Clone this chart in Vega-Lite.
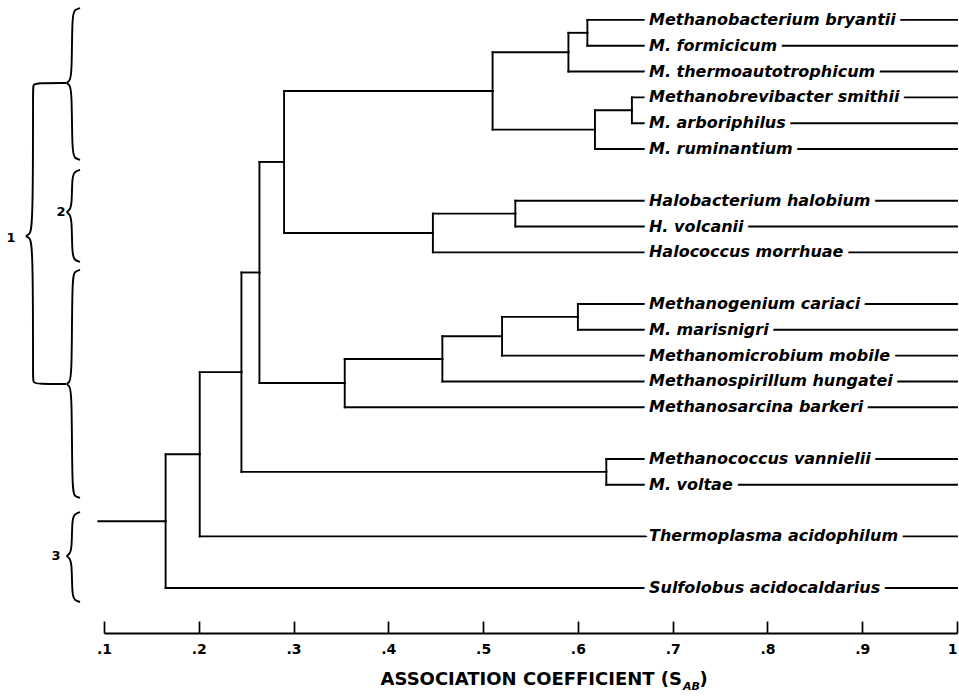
{
  "$schema": "https://vega.github.io/schema/vega-lite/v6.json",
  "width": 853,
  "height": 626,
  "autosize": {"type": "none"},
  "padding": {"left": 104, "top": 7, "right": 2, "bottom": 63},
  "background": "white",
  "config": {"view": {"stroke": null}},
  "datasets": {
    "nodes": [
      {"id": "root", "parent": null, "kind": "root", "coef": 0.094, "row": 19.41},
      {"id": "Q", "parent": "root", "kind": "node", "coef": 0.165, "row": 19.41},
      {"id": "P", "parent": "Q", "kind": "node", "coef": 0.201, "row": 16.82},
      {"id": "O", "parent": "P", "kind": "node", "coef": 0.245, "row": 13.64},
      {"id": "I", "parent": "O", "kind": "node", "coef": 0.264, "row": 9.78},
      {"id": "F", "parent": "I", "kind": "node", "coef": 0.29, "row": 5.5},
      {"id": "E", "parent": "F", "kind": "node", "coef": 0.51, "row": 2.75},
      {"id": "B", "parent": "E", "kind": "node", "coef": 0.59, "row": 1.25},
      {"id": "A", "parent": "B", "kind": "node", "coef": 0.61, "row": 0.5},
      {"id": "D", "parent": "E", "kind": "node", "coef": 0.618, "row": 4.25},
      {"id": "C", "parent": "D", "kind": "node", "coef": 0.657, "row": 3.5},
      {"id": "G", "parent": "F", "kind": "node", "coef": 0.447, "row": 8.25},
      {"id": "H", "parent": "G", "kind": "node", "coef": 0.534, "row": 7.5},
      {"id": "J", "parent": "I", "kind": "node", "coef": 0.354, "row": 14.06},
      {"id": "K", "parent": "J", "kind": "node", "coef": 0.457, "row": 13.13},
      {"id": "L", "parent": "K", "kind": "node", "coef": 0.52, "row": 12.25},
      {"id": "M", "parent": "L", "kind": "node", "coef": 0.6, "row": 11.5},
      {"id": "N", "parent": "O", "kind": "node", "coef": 0.63, "row": 17.5},
      {"id": "s1", "parent": "A", "kind": "leaf", "name": "Methanobacterium bryantii", "coef": 1.0, "row": 0},
      {"id": "s2", "parent": "A", "kind": "leaf", "name": "M. formicicum", "coef": 1.0, "row": 1},
      {"id": "s3", "parent": "B", "kind": "leaf", "name": "M. thermoautotrophicum", "coef": 1.0, "row": 2},
      {"id": "s4", "parent": "C", "kind": "leaf", "name": "Methanobrevibacter smithii", "coef": 1.0, "row": 3},
      {"id": "s5", "parent": "C", "kind": "leaf", "name": "M. arboriphilus", "coef": 1.0, "row": 4},
      {"id": "s6", "parent": "D", "kind": "leaf", "name": "M. ruminantium", "coef": 1.0, "row": 5},
      {"id": "s7", "parent": "H", "kind": "leaf", "name": "Halobacterium halobium", "coef": 1.0, "row": 7},
      {"id": "s8", "parent": "H", "kind": "leaf", "name": "H. volcanii", "coef": 1.0, "row": 8},
      {"id": "s9", "parent": "G", "kind": "leaf", "name": "Halococcus morrhuae", "coef": 1.0, "row": 9},
      {"id": "s10", "parent": "M", "kind": "leaf", "name": "Methanogenium cariaci", "coef": 1.0, "row": 11},
      {"id": "s11", "parent": "M", "kind": "leaf", "name": "M. marisnigri", "coef": 1.0, "row": 12},
      {"id": "s12", "parent": "L", "kind": "leaf", "name": "Methanomicrobium mobile", "coef": 1.0, "row": 13},
      {"id": "s13", "parent": "K", "kind": "leaf", "name": "Methanospirillum hungatei", "coef": 1.0, "row": 14},
      {"id": "s14", "parent": "J", "kind": "leaf", "name": "Methanosarcina barkeri", "coef": 1.0, "row": 15},
      {"id": "s15", "parent": "N", "kind": "leaf", "name": "Methanococcus vannielii", "coef": 1.0, "row": 17},
      {"id": "s16", "parent": "N", "kind": "leaf", "name": "M. voltae", "coef": 1.0, "row": 18},
      {"id": "s17", "parent": "P", "kind": "leaf", "name": "Thermoplasma acidophilum", "coef": 1.0, "row": 20},
      {"id": "s18", "parent": "Q", "kind": "leaf", "name": "Sulfolobus acidocaldarius", "coef": 1.0, "row": 22}
    ],
    "braces": [
      {"brace": "a", "seq": 1, "coef": 0.0747, "row": -0.46},
      {"brace": "a", "seq": 2, "coef": 0.0694, "row": -0.40},
      {"brace": "a", "seq": 3, "coef": 0.0662, "row": -0.23},
      {"brace": "a", "seq": 4, "coef": 0.0662, "row": 2.21},
      {"brace": "a", "seq": 5, "coef": 0.0631, "row": 2.38},
      {"brace": "a", "seq": 6, "coef": 0.0599, "row": 2.44},
      {"brace": "a", "seq": 7, "coef": 0.0631, "row": 2.50},
      {"brace": "a", "seq": 8, "coef": 0.0662, "row": 2.67},
      {"brace": "a", "seq": 9, "coef": 0.0662, "row": 5.19},
      {"brace": "a", "seq": 10, "coef": 0.0694, "row": 5.36},
      {"brace": "a", "seq": 11, "coef": 0.0747, "row": 5.42},
      {"brace": "b", "seq": 1, "coef": 0.0747, "row": 5.81},
      {"brace": "b", "seq": 2, "coef": 0.0694, "row": 5.87},
      {"brace": "b", "seq": 3, "coef": 0.0662, "row": 6.04},
      {"brace": "b", "seq": 4, "coef": 0.0662, "row": 7.21},
      {"brace": "b", "seq": 5, "coef": 0.0631, "row": 7.38},
      {"brace": "b", "seq": 6, "coef": 0.0599, "row": 7.44},
      {"brace": "b", "seq": 7, "coef": 0.0631, "row": 7.50},
      {"brace": "b", "seq": 8, "coef": 0.0662, "row": 7.67},
      {"brace": "b", "seq": 9, "coef": 0.0662, "row": 9.14},
      {"brace": "b", "seq": 10, "coef": 0.0694, "row": 9.31},
      {"brace": "b", "seq": 11, "coef": 0.0747, "row": 9.37},
      {"brace": "c", "seq": 1, "coef": 0.0747, "row": 9.68},
      {"brace": "c", "seq": 2, "coef": 0.0694, "row": 9.74},
      {"brace": "c", "seq": 3, "coef": 0.0662, "row": 9.91},
      {"brace": "c", "seq": 4, "coef": 0.0662, "row": 13.87},
      {"brace": "c", "seq": 5, "coef": 0.0631, "row": 14.04},
      {"brace": "c", "seq": 6, "coef": 0.0599, "row": 14.10},
      {"brace": "c", "seq": 7, "coef": 0.0631, "row": 14.16},
      {"brace": "c", "seq": 8, "coef": 0.0662, "row": 14.33},
      {"brace": "c", "seq": 9, "coef": 0.0662, "row": 18.28},
      {"brace": "c", "seq": 10, "coef": 0.0694, "row": 18.45},
      {"brace": "c", "seq": 11, "coef": 0.0747, "row": 18.51},
      {"brace": "d", "seq": 1, "coef": 0.0747, "row": 19.06},
      {"brace": "d", "seq": 2, "coef": 0.0694, "row": 19.12},
      {"brace": "d", "seq": 3, "coef": 0.0662, "row": 19.29},
      {"brace": "d", "seq": 4, "coef": 0.0662, "row": 20.53},
      {"brace": "d", "seq": 5, "coef": 0.0631, "row": 20.70},
      {"brace": "d", "seq": 6, "coef": 0.0599, "row": 20.76},
      {"brace": "d", "seq": 7, "coef": 0.0631, "row": 20.82},
      {"brace": "d", "seq": 8, "coef": 0.0662, "row": 20.99},
      {"brace": "d", "seq": 9, "coef": 0.0662, "row": 22.31},
      {"brace": "d", "seq": 10, "coef": 0.0694, "row": 22.48},
      {"brace": "d", "seq": 11, "coef": 0.0747, "row": 22.54},
      {"brace": "e", "seq": 1, "coef": 0.0599, "row": 2.44},
      {"brace": "e", "seq": 2, "coef": 0.030, "row": 2.44},
      {"brace": "e", "seq": 3, "coef": 0.0251, "row": 2.50},
      {"brace": "e", "seq": 4, "coef": 0.0251, "row": 2.67},
      {"brace": "e", "seq": 5, "coef": 0.0251, "row": 8.14},
      {"brace": "e", "seq": 6, "coef": 0.0209, "row": 8.31},
      {"brace": "e", "seq": 7, "coef": 0.0166, "row": 8.37},
      {"brace": "e", "seq": 8, "coef": 0.0209, "row": 8.43},
      {"brace": "e", "seq": 9, "coef": 0.0251, "row": 8.60},
      {"brace": "e", "seq": 10, "coef": 0.0251, "row": 13.87},
      {"brace": "e", "seq": 11, "coef": 0.0251, "row": 14.04},
      {"brace": "e", "seq": 12, "coef": 0.030, "row": 14.10},
      {"brace": "e", "seq": 13, "coef": 0.0599, "row": 14.10}
    ],
    "groups": [
      {"label": "1", "coef": 0.0019, "row": 8.44},
      {"label": "2", "coef": 0.0546, "row": 7.44},
      {"label": "3", "coef": 0.0494, "row": 20.76}
    ]
  },
  "layer": [
    {
      "data": {"name": "nodes"},
      "transform": [
        {"lookup": "parent", "from": {"data": {"name": "nodes"}, "key": "id", "fields": ["coef", "row"]}, "as": ["pcoef", "prow"]},
        {"filter": "datum.parent != null"}
      ],
      "mark": {"type": "rule", "color": "black", "strokeWidth": 1.9, "strokeCap": "square"},
      "encoding": {
        "x": {
          "field": "pcoef",
          "type": "quantitative",
          "scale": {"domain": [0.1, 1.0], "nice": false, "zero": false},
          "axis": {
            "title": null,
            "values": [0.1, 0.2, 0.3, 0.4, 0.5, 0.6, 0.7, 0.8, 0.9, 1.0],
            "labelExpr": "datum.value >= 0.999 ? '1' : '.' + round(datum.value * 10)",
            "grid": false,
            "domainColor": "black",
            "domainWidth": 1.9,
            "tickColor": "black",
            "tickWidth": 1.7,
            "tickSize": -12,
            "labelPadding": 21,
            "labelFont": "DejaVu Sans",
            "labelFontWeight": "bold",
            "labelFontSize": 14,
            "labelColor": "black",
            "labelFlush": false,
            "labelOverlap": false,
            "labelAlign": {"condition": {"test": "datum.value >= 0.999", "value": "right"}, "value": "center"}
          }
        },
        "x2": {"field": "coef"},
        "y": {"field": "row", "type": "quantitative", "scale": {"domain": [-0.5, 23.74], "reverse": true, "nice": false, "zero": false}, "axis": null}
      }
    },
    {
      "data": {"name": "nodes"},
      "transform": [
        {"lookup": "parent", "from": {"data": {"name": "nodes"}, "key": "id", "fields": ["coef", "row"]}, "as": ["pcoef", "prow"]},
        {"filter": "datum.parent != null && datum.prow != datum.row"}
      ],
      "mark": {"type": "rule", "color": "black", "strokeWidth": 1.9, "strokeCap": "square"},
      "encoding": {
        "x": {"field": "pcoef", "type": "quantitative"},
        "y": {"field": "prow", "type": "quantitative", "axis": null},
        "y2": {"field": "row"}
      }
    },
    {
      "data": {"name": "nodes"},
      "transform": [{"filter": "datum.kind == 'leaf'"}],
      "mark": {"type": "text", "align": "left", "baseline": "middle", "font": "DejaVu Sans", "fontStyle": "italic", "fontWeight": "bold", "fontSize": 16, "fill": "white", "stroke": "white", "strokeWidth": 11, "strokeJoin": "round"},
      "encoding": {
        "x": {"datum": 0.675, "type": "quantitative"},
        "y": {"field": "row", "type": "quantitative", "axis": null},
        "text": {"field": "name"}
      }
    },
    {
      "data": {"name": "nodes"},
      "transform": [{"filter": "datum.kind == 'leaf'"}],
      "mark": {"type": "text", "align": "left", "baseline": "middle", "font": "DejaVu Sans", "fontStyle": "italic", "fontWeight": "bold", "fontSize": 16, "fill": "black"},
      "encoding": {
        "x": {"datum": 0.675, "type": "quantitative"},
        "y": {"field": "row", "type": "quantitative", "axis": null},
        "text": {"field": "name"}
      }
    },
    {
      "data": {"name": "braces"},
      "mark": {"type": "line", "interpolate": "basis", "color": "black", "strokeWidth": 1.9},
      "encoding": {
        "x": {"field": "coef", "type": "quantitative"},
        "y": {"field": "row", "type": "quantitative", "axis": null},
        "detail": {"field": "brace"},
        "order": {"field": "seq", "type": "quantitative"}
      }
    },
    {
      "data": {"name": "groups"},
      "mark": {"type": "text", "align": "center", "baseline": "middle", "font": "DejaVu Sans", "fontWeight": "bold", "fontSize": 13, "fill": "black"},
      "encoding": {
        "x": {"field": "coef", "type": "quantitative"},
        "y": {"field": "row", "type": "quantitative", "axis": null},
        "text": {"field": "label"}
      }
    },
    {
      "data": {"values": [{"t": "ASSOCIATION COEFFICIENT (S"}]},
      "mark": {"type": "text", "align": "right", "baseline": "middle", "font": "DejaVu Sans", "fontWeight": "bold", "fontSize": 18, "fill": "black"},
      "encoding": {
        "x": {"datum": 0.7099, "type": "quantitative"},
        "y": {"datum": 25.56, "type": "quantitative", "axis": null},
        "text": {"field": "t"}
      }
    },
    {
      "data": {"values": [{"t": "AB"}]},
      "mark": {"type": "text", "align": "left", "baseline": "middle", "font": "DejaVu Sans", "fontStyle": "italic", "fontWeight": "bold", "fontSize": 11, "fill": "black"},
      "encoding": {
        "x": {"datum": 0.7109, "type": "quantitative"},
        "y": {"datum": 25.82, "type": "quantitative", "axis": null},
        "text": {"field": "t"}
      }
    },
    {
      "data": {"values": [{"t": ")"}]},
      "mark": {"type": "text", "align": "left", "baseline": "middle", "font": "DejaVu Sans", "fontWeight": "bold", "fontSize": 18, "fill": "black"},
      "encoding": {
        "x": {"datum": 0.7282, "type": "quantitative"},
        "y": {"datum": 25.56, "type": "quantitative", "axis": null},
        "text": {"field": "t"}
      }
    }
  ]
}
